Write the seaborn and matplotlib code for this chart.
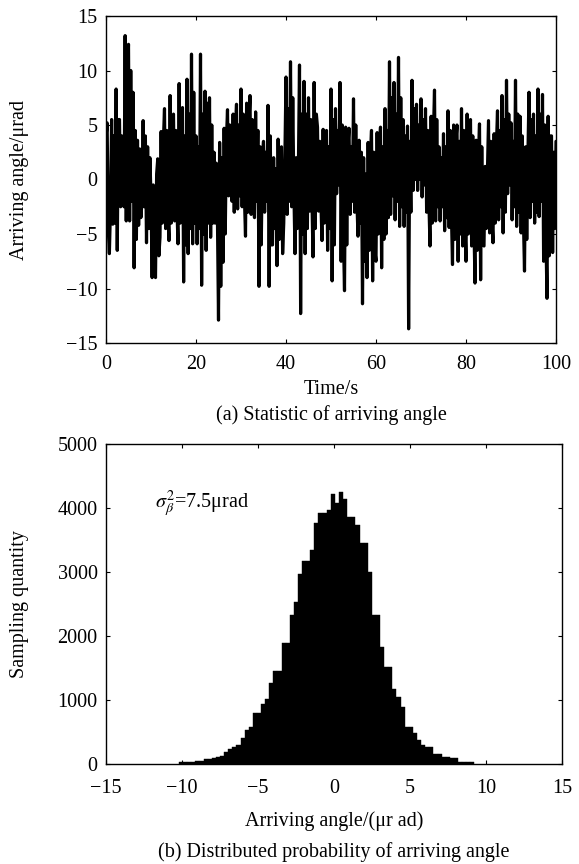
import numpy as np
import pandas as pd
import matplotlib
matplotlib.use("Agg")
import matplotlib.pyplot as plt
import seaborn as sns

# ---------------- data ----------------
# (a) arriving angle (urad), one sample every 0.25 s from 0 to 100 s
sample_step = 0.25
angle = [
    3.8, 5.2, -4.5, -6.8,   -2.5, 5.5, -4.1, 4.0,  -4.0, 8.3, -6.5, 5.5,   5.5, -2.5, 4.0, -0.5,  -2.5, 13.2, -3.8, 9.5,
    12.4, -3.8, 10.0, -2.0, 8.0, -8.1, 4.5, -5.5,  3.6, -4.2, 2.8, -3.5,   -2.0, 5.4, -2.5, 4.0,  -5.8, 3.0, -4.5, 2.0,
    -1.5, -9.0, -0.5, -7.5, -9.0, 0.5, 1.9, -7.0,  -5.3, 4.4, -4.0, 3.5,   6.5, -4.5, 4.5, -3.0,  -5.6, 7.7, -4.0, 5.5,
    6.0, -3.8, 4.5, -2.5,   -5.9, 8.8, -4.0, 6.0,  6.6, -9.4, 4.0, -6.0,   9.2, -6.8, 6.0, -4.5,  11.5, -5.9, 8.0, -4.0,
    4.0, -5.9, 3.0, -4.5,   11.5, -9.7, 6.0, -5.0, 8.1, -6.5, 7.0, -4.0,   7.5, -5.3, 5.0, -4.0,  2.5, -4.0, 1.5, -3.0,
    -12.9, 3.4, -9.8, 2.0,  -7.6, 4.7, -5.0, 3.5,  6.4, -1.5, 5.0, -0.5,   -2.0, 6.0, -3.0, 4.5,  6.9, -2.7, 5.0, -1.5,
    8.3, -2.5, 6.0, -1.5,   -5.2, 7.0, -3.0, 5.0,  7.7, -3.2, 5.5, -2.0,   -3.5, 6.2, -2.0, 4.5,  -9.8, 3.0, -6.0, 2.0,
    3.5, -3.0, 2.5, -2.0,   6.8, -9.8, 4.0, -6.0,  -6.0, 2.0, -4.5, 1.0,   -7.9, 3.7, -5.5, 2.5,  3.0, -6.8, -4.0, 2.0,
    9.4, -3.2, 6.5, -2.0,   10.8, -2.5, 7.5, -1.0, -6.8, 2.0, -4.5, 1.0,   10.5, -12.3, 6.0, -5.0, 9.0, -6.8, 6.0, -4.5,
    7.5, -2.9, 5.5, -1.5,   -7.1, 8.9, -4.5, 6.0,  4.8, -2.9, 3.5, -2.0,   -5.6, 4.6, -4.0, 3.0,  4.5, -6.5, 3.0, -4.5,
    8.3, -9.3, 5.5, -6.0,   6.5, -1.3, 4.5, -0.5,  8.9, -7.5, 5.0, -5.0,   -10.2, 4.8, -6.0, 3.0, 4.7, -3.2, 3.0, -2.0,
    7.4, -3.0, 5.0, -2.0,   -5.2, 3.6, -4.0, 2.5,  -11.4, 2.0, -7.5, 0.5,  -9.0, 3.4, -6.5, 2.0,  4.5, -9.3, 2.5, -6.5,
    -7.5, 4.3, -5.0, 3.0,   4.8, -8.1, 3.0, -5.5,  6.5, -5.0, 4.5, -3.5,   10.8, -3.2, 7.5, -1.5, 8.9, -3.7, 6.0, -2.0,
    11.2, -4.3, 7.5, -2.5,  5.5, -4.3, 4.0, -3.0,  4.9, -13.7, 3.5, -3.0,  9.1, -1.0, 6.5, 0.0,   6.9, -1.0, 5.0, 0.0,
    7.4, -1.6, 5.5, -0.5,   6.5, -3.0, 4.5, -2.0,  -6.1, 5.8, -4.0, 4.0,   8.2, -3.8, 5.5, -2.5,  3.0, -3.8, 2.0, -2.5,
    4.2, -4.7, 3.0, -3.5,   6.3, -4.4, 4.5, -3.0,  -7.8, 5.0, -5.5, 3.5,   5.0, -7.5, 3.5, -5.0,  6.5, -6.1, 4.5, -4.0,
    -7.5, 6.0, -5.0, 4.0,   5.5, -6.1, 4.0, -4.0,  -9.5, 3.6, -6.5, 2.0,   5.1, -9.2, 3.0, -6.0,  -6.1, 1.2, -4.5, 0.5,
    5.4, -4.9, 3.5, -3.5,   -5.8, 4.2, -4.0, 3.0,  6.3, -3.7, 4.5, -2.5,   7.7, -4.9, 5.5, -3.0,  9.1, -1.3, 6.0, -0.5,
    5.2, -3.7, 3.5, -2.5,   9.1, -4.3, 6.0, -3.0,  5.8, -4.9, 4.0, -3.5,   -8.4, 3.0, -5.5, 2.0,  8.0, -3.5, 5.5, -2.0,
    6.0, -4.0, 4.0, -3.0,   8.3, -3.4, 6.0, -2.0,  7.8, -7.5, 5.0, -5.0,   -10.9, 5.8, -7.0, 4.0, 4.0, -6.7, 2.5, -4.5,
    3.5,
]

# (b) histogram of arriving angle: bins of equal width starting at hist_start
hist_start = -10.2
hist_width = 0.27
hist_counts = [
    36, 36, 36, 36, 47, 47, 73, 80, 100, 110,
    125, 190, 230, 270, 300, 400, 531, 583, 802, 802,
    937, 1010, 1271, 1458, 1458, 1885, 1885, 2328, 2536, 2969,
    3177, 3177, 3344, 3760, 3927, 3927, 3969, 4220, 4080, 4245,
    4135, 3865, 3865, 3734, 3448, 3448, 3005, 2328, 2328, 1833,
    1521, 1521, 1167, 1052, 885, 583, 583, 479, 375, 300,
    260, 260, 156, 156, 115, 115, 89, 89, 36, 36,
    36, 36,
]

time_ticks = [0, 20, 40, 60, 80, 100]
angle_ticks = [-15, -10, -5, 0, 5, 10, 15]
hist_xticks = [-15, -10, -5, 0, 5, 10, 15]
hist_yticks = [0, 1000, 2000, 3000, 4000, 5000]

annotation = r"$\sigma_\beta^2$=7.5μrad"

# ---------------- style ----------------
sns.set_theme(style="white")
plt.rcParams.update({
    "font.family": ["Liberation Serif", "DejaVu Serif"],
    "mathtext.fontset": "stix",
    "font.size": 14.5,
    "axes.labelsize": 14.5,
    "xtick.labelsize": 14.5,
    "ytick.labelsize": 14.5,
    "axes.edgecolor": "black",
    "axes.linewidth": 1.0,
    "axes.labelcolor": "black",
    "text.color": "black",
    "xtick.color": "black",
    "ytick.color": "black",
    "xtick.direction": "in",
    "ytick.direction": "in",
    "xtick.bottom": True,
    "ytick.left": True,
    "xtick.top": True,
    "ytick.right": True,
    "xtick.major.size": 3.0,
    "ytick.major.size": 3.0,
    "xtick.major.width": 0.8,
    "ytick.major.width": 0.8,
    "ytick.major.pad": 6.0,
})

W, H = 579, 864
fig = plt.figure(figsize=(W / 100, H / 100), dpi=100)

def frac_box(left, top, right, bottom):
    return [left / W, 1 - bottom / H, (right - left) / W, (bottom - top) / H]

ax1 = fig.add_axes(frac_box(106, 16, 556, 343))
ax2 = fig.add_axes(frac_box(106, 444, 562, 764))

# ---------------- (a) time series ----------------
time = np.arange(len(angle)) * sample_step
df_a = pd.DataFrame({"Time": time, "Angle": angle})
sns.lineplot(data=df_a, x="Time", y="Angle", color="black", linewidth=2.3,
             estimator=None, sort=False, ax=ax1)
ax1.set_xlim(0, 100)
ax1.set_ylim(-15, 15)
ax1.set_xticks(time_ticks)
ax1.set_yticks(angle_ticks)
ax1.tick_params(axis="x", pad=8.3)
ax1.set_xlabel("Time/s")
ax1.set_ylabel("Arriving angle/μrad")

# ---------------- (b) histogram ----------------
edges = [float(e) for e in hist_start + hist_width * np.arange(len(hist_counts) + 1)]
centers = [e + hist_width / 2 for e in edges[:-1]]
df_b = pd.DataFrame({"Angle": centers, "Count": hist_counts})
sns.histplot(data=df_b, x="Angle", weights="Count", bins=edges, color="black",
             alpha=1.0, edgecolor="black", linewidth=0.3, ax=ax2)
ax2.set_xlim(-15, 15)
ax2.set_ylim(0, 5000)
ax2.set_xticks(hist_xticks)
ax2.set_yticks(hist_yticks)
ax2.tick_params(axis="x", pad=10.5)
ax2.set_xlabel("Arriving angle/(μr ad)")
ax2.set_ylabel("Sampling quantity")
ax2.text(-11.8, 4000, annotation, fontsize=14.5, ha="left", va="baseline")

for ax in (ax1, ax2):
    for s in ax.spines.values():
        s.set_visible(True)
        s.set_color("black")
    ax.grid(False)
    ax.set_facecolor("white")

# label positions (figure pixel centres)
def place_labels(ax, ylabel_x_px, xlabel_y_px, box):
    left, top, right, bottom = box
    ax.xaxis.label.set_va("center")
    ax.yaxis.label.set_va("center")
    ax.xaxis.set_label_coords(0.5, (bottom - xlabel_y_px) / (bottom - top))
    ax.yaxis.set_label_coords((ylabel_x_px - left) / (right - left), 0.5)

place_labels(ax1, 20, 389, (106, 16, 556, 343))
place_labels(ax2, 20, 821, (106, 444, 562, 764))

fig.text((106 + 556) / 2 / W, 1 - 415 / H, "(a) Statistic of arriving angle",
         ha="center", va="center", fontsize=14.5)
fig.text((106 + 562) / 2 / W, 1 - 852 / H, "(b) Distributed probability of arriving angle",
         ha="center", va="center", fontsize=14.5)

fig.savefig("out.png", dpi=100, facecolor="white")
